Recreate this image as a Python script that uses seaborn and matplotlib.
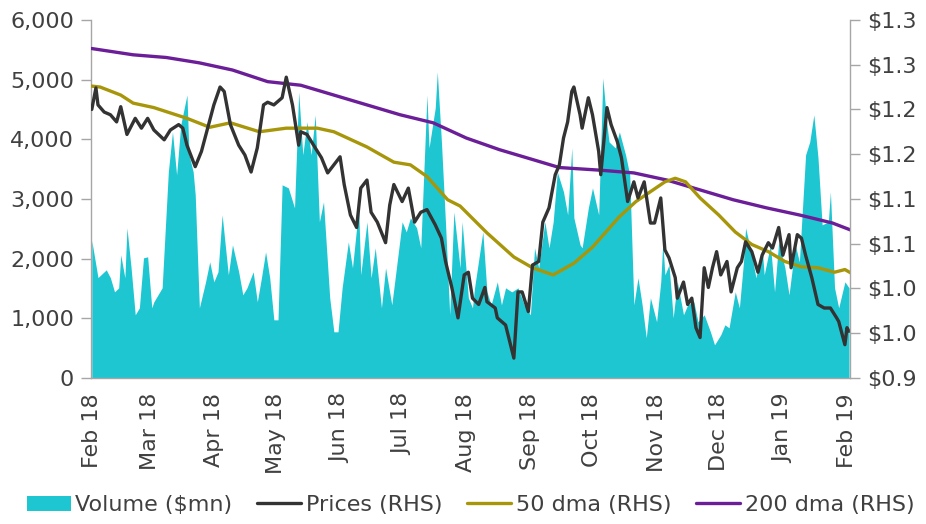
import pandas as pd
import matplotlib
matplotlib.use("Agg")
import matplotlib.pyplot as plt
import matplotlib.dates as mdates
from matplotlib.patches import Patch
from matplotlib.lines import Line2D
from matplotlib.ticker import StrMethodFormatter
import seaborn as sns

START = pd.Timestamp("2018-02-01")

# volume ($mn), days counted from 1 Feb 2018
vol_days = [0, 3, 7, 9, 11, 13, 14, 16, 17, 19, 21, 23, 25, 27, 29, 30, 34, 37,
            39, 41, 43, 46, 47, 49, 50, 52, 55, 57, 59, 61, 63, 66, 68, 71, 73,
            75, 78, 80, 82, 84, 86, 88, 90, 92, 95, 98, 100, 102, 104, 106, 108,
            110, 112, 115, 117, 119, 121, 124, 126, 129, 130, 133, 135, 137, 140,
            142, 145, 147, 150, 152, 154, 157, 159, 162, 163, 166, 167, 169, 171,
            173, 175, 178, 179, 182, 184, 185, 189, 191, 193, 196, 198, 200, 203,
            206, 209, 212, 214, 216, 219, 221, 223, 225, 228, 230, 232, 233, 236,
            237, 240, 242, 245, 247, 249, 250, 253, 255, 258, 260, 262, 264, 266,
            268, 270, 273, 275, 276, 277, 279, 281, 283, 286, 288, 291, 293, 296,
            299, 301, 304, 306, 308, 311, 313, 315, 316, 319, 321, 324, 325, 328,
            330, 332, 335, 337, 340, 342, 345, 347, 349, 351, 353, 356, 357, 359,
            361, 364, 366]
vol_vals = [2300, 1680, 1810, 1676, 1441, 1508, 2061, 1676, 2514, 1844, 1056, 1173,
            2011, 2028, 1173, 1274, 1508, 3453, 4123, 3402, 4240, 4743, 3737, 3453,
            3067, 1173, 1609, 1944, 1609, 1777, 2732, 1726, 2229, 1777, 1391, 1508,
            1777, 1274, 1676, 2112, 1676, 972, 972, 3235, 3184, 2849, 4793, 3737,
            4291, 3737, 4408, 2615, 2950, 1341, 771, 771, 1508, 2279, 1844, 2849,
            1726, 2615, 1676, 2179, 1173, 1844, 1223, 1777, 2615, 2447, 2682, 2514,
            2179, 4743, 3855, 4525, 5129, 3955, 2564, 1056, 2782, 1844, 2615, 1341,
            1173, 1508, 2447, 1441, 1223, 1609, 1223, 1508, 1441, 1508, 1223, 1056,
            2179, 1844, 2615, 2179, 2615, 3453, 3117, 2732, 3855, 2682, 2229, 2179,
            2849, 3184, 2732, 5028, 4240, 3955, 3855, 4123, 3737, 3402, 1223, 1676,
            1223, 670, 1341, 939, 1609, 2279, 1726, 1894, 1006, 1609, 1056, 1223,
            1274, 939, 1056, 771, 553, 721, 888, 838, 1441, 1173, 1944, 2514, 2061,
            1676, 2179, 1726, 2229, 1441, 2279, 1844, 1391, 2229, 1944, 3737, 3955,
            4408, 3687, 2564, 2615, 3117, 1508, 1173, 1609, 1508]

# prices (RHS)
price_days = [0, 2, 3, 6, 9, 12, 14, 17, 21, 24, 27, 30, 35, 38, 42, 44, 46, 50,
              53, 56, 59, 62, 64, 67, 71, 74, 77, 80, 83, 85, 88, 92, 94, 97, 100,
              101, 104, 108, 111, 114, 117, 120, 122, 125, 128, 130, 133, 135, 138,
              142, 144, 146, 150, 153, 156, 159, 162, 166, 169, 171, 174, 177, 180,
              182, 184, 187, 190, 191, 195, 196, 200, 204, 206, 208, 211, 213, 216,
              218, 221, 224, 226, 228, 230, 232, 233, 236, 237, 240, 242, 245, 246,
              249, 251, 254, 256, 259, 262, 264, 267, 270, 272, 275, 277, 279, 282,
              283, 286, 288, 290, 292, 294, 296, 298, 300, 302, 304, 307, 309, 312,
              314, 316, 319, 322, 324, 327, 329, 332, 334, 337, 338, 341, 343, 345,
              348, 351, 354, 357, 360, 361, 364, 365, 366]
price_vals = [1.200, 1.224, 1.205, 1.197, 1.194, 1.186, 1.203, 1.172, 1.190, 1.179,
              1.190, 1.177, 1.166, 1.177, 1.183, 1.179, 1.160, 1.136, 1.153, 1.179,
              1.205, 1.225, 1.220, 1.183, 1.160, 1.149, 1.130, 1.157, 1.205, 1.208,
              1.205, 1.213, 1.236, 1.205, 1.160, 1.175, 1.172, 1.157, 1.146, 1.129,
              1.138, 1.147, 1.116, 1.082, 1.068, 1.112, 1.121, 1.085, 1.074, 1.051,
              1.093, 1.116, 1.097, 1.112, 1.074, 1.085, 1.088, 1.071, 1.056, 1.030,
              1.001, 0.967, 1.015, 1.018, 0.989, 0.982, 1.001, 0.985, 0.978, 0.967,
              0.959, 0.922, 0.996, 0.996, 0.974, 1.026, 1.030, 1.074, 1.090, 1.127,
              1.138, 1.168, 1.186, 1.220, 1.225, 1.194, 1.179, 1.213, 1.194, 1.153,
              1.127, 1.202, 1.183, 1.164, 1.146, 1.097, 1.119, 1.101, 1.119, 1.073,
              1.073, 1.101, 1.043, 1.034, 1.012, 0.989, 1.007, 0.982, 0.989, 0.956,
              0.945, 1.023, 1.001, 1.023, 1.041, 1.015, 1.030, 0.996, 1.023, 1.030,
              1.052, 1.041, 1.018, 1.037, 1.051, 1.045, 1.068, 1.037, 1.060, 1.023,
              1.060, 1.056, 1.037, 1.012, 0.982, 0.978, 0.978, 0.967, 0.963, 0.937,
              0.956, 0.952]

# 50 day moving average (RHS)
ma50_days = [0, 4, 14, 20, 30, 38, 46, 57, 67, 81, 94, 109, 117, 133, 146, 154,
             162, 172, 178, 191, 204, 213, 223, 233, 242, 255, 263, 270, 277, 282,
             287, 294, 303, 311, 319, 327, 335, 343, 351, 359, 364, 367]
ma50_vals = [1.226, 1.225, 1.216, 1.207, 1.202, 1.196, 1.190, 1.180, 1.185, 1.175,
             1.179, 1.179, 1.175, 1.158, 1.141, 1.138, 1.125, 1.099, 1.092, 1.062,
             1.035, 1.023, 1.015, 1.028, 1.046, 1.080, 1.097, 1.108, 1.119, 1.123,
             1.119, 1.101, 1.082, 1.063, 1.049, 1.041, 1.030, 1.024, 1.023, 1.018,
             1.021, 1.017]

# 200 day moving average (RHS)
ma200_days = [0, 20, 36, 52, 68, 85, 101, 117, 133, 149, 165, 181, 197, 213, 226,
              246, 262, 278, 294, 310, 326, 342, 358, 367]
ma200_vals = [1.268, 1.261, 1.258, 1.252, 1.244, 1.231, 1.227, 1.216, 1.205, 1.194,
              1.185, 1.168, 1.155, 1.144, 1.135, 1.132, 1.129, 1.121, 1.110, 1.099,
              1.090, 1.082, 1.073, 1.065]

vol_ticks = [0, 1000, 2000, 3000, 4000, 5000, 6000]
price_ticks = [0.90, 0.95, 1.00, 1.05, 1.10, 1.15, 1.20, 1.25, 1.30]
price_tick_labels = ["$0.9", "$1.0", "$1.0", "$1.1", "$1.1", "$1.2", "$1.2",
                     "$1.3", "$1.3"]

C_VOL = "#1EC6D2"
C_PRICE = "#333333"
C_MA50 = "#A8960A"
C_MA200 = "#6B1E98"
C_AXIS = "#A6A6A6"
C_TEXT = "#404040"


def to_frame(days, vals, name):
    return pd.DataFrame({"date": START + pd.to_timedelta(days, unit="D"),
                         name: vals})


vol = to_frame(vol_days, vol_vals, "volume")
price = to_frame(price_days, price_vals, "price")
ma50 = to_frame(ma50_days, ma50_vals, "ma")
ma200 = to_frame(ma200_days, ma200_vals, "ma")

sns.set_style("white")
plt.rcParams["font.family"] = ["DejaVu Sans"]

fig = plt.figure(figsize=(9.26, 5.24), dpi=100)
ax = fig.add_axes([0.098, 0.279, 0.820, 0.683])
ax2 = ax.twinx()

ax.fill_between(vol["date"], vol["volume"], 0, color=C_VOL, linewidth=0)

sns.lineplot(data=ma200, x="date", y="ma", ax=ax2, color=C_MA200, linewidth=2.4)
sns.lineplot(data=ma50, x="date", y="ma", ax=ax2, color=C_MA50, linewidth=2.4)
sns.lineplot(data=price, x="date", y="price", ax=ax2, color=C_PRICE,
             linewidth=2.4)

ax.set_xlim(START - pd.Timedelta(days=0.5), START + pd.Timedelta(days=366.5))
ax.set_ylim(0, 6000)
ax2.set_ylim(0.9, 1.3)

ax.set_yticks(vol_ticks)
ax.yaxis.set_major_formatter(StrMethodFormatter("{x:,.0f}"))
ax2.set_yticks(price_ticks)
ax2.set_yticklabels(price_tick_labels)

ax.xaxis.set_major_locator(mdates.MonthLocator())
ax.xaxis.set_major_formatter(mdates.DateFormatter("%b %y"))
for lab in ax.get_xticklabels():
    lab.set_rotation(90)

for a in (ax, ax2):
    a.set_xlabel("")
    a.set_ylabel("")
    for s in a.spines.values():
        s.set_visible(False)
    a.tick_params(direction="out", length=7, width=1, color=C_AXIS,
                  labelcolor=C_TEXT, labelsize=16, pad=5)
ax.spines["left"].set_visible(True)
ax.spines["bottom"].set_visible(True)
ax2.spines["right"].set_visible(True)
for s in (ax.spines["left"], ax.spines["bottom"], ax2.spines["right"]):
    s.set_color(C_AXIS)
    s.set_linewidth(1)
ax.tick_params(axis="x", pad=4)

handles = [
    Patch(facecolor=C_VOL, edgecolor="none"),
    Line2D([], [], color=C_PRICE, linewidth=2.4),
    Line2D([], [], color=C_MA50, linewidth=2.4),
    Line2D([], [], color=C_MA200, linewidth=2.4),
]
labels = ["Volume ($mn)", "Prices (RHS)", "50 dma (RHS)", "200 dma (RHS)"]
fig.legend(handles, labels, loc="center", bbox_to_anchor=(0.508, 0.036), ncol=4,
           frameon=False, fontsize=16, labelcolor=C_TEXT, handlelength=2.0,
           handletextpad=0.2, columnspacing=1.1)

fig.savefig("out.png", dpi=100)
